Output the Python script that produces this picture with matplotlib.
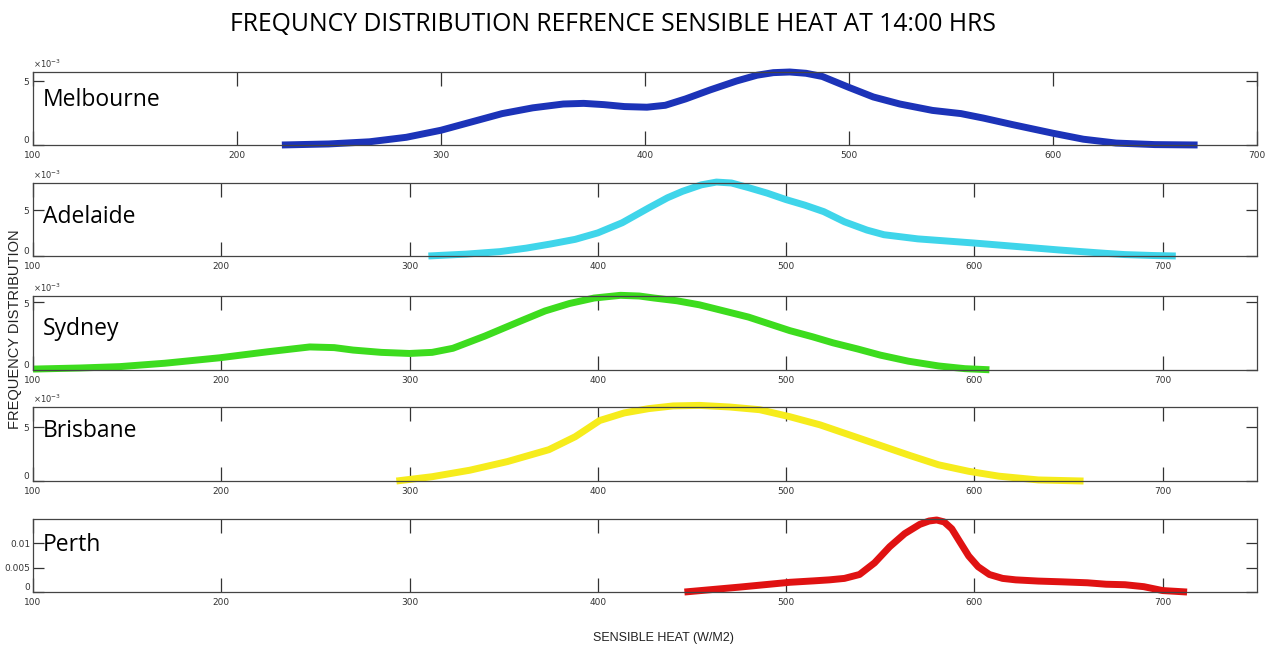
import matplotlib
matplotlib.use('Agg')
import matplotlib.pyplot as plt
from matplotlib.ticker import ScalarFormatter

# Sensible heat (W/m2) and frequency (x1e-3)
cities = ['Melbourne', 'Adelaide', 'Sydney', 'Brisbane', 'Perth']

melb_x = [222, 245, 265, 283, 300, 315, 330, 345, 360, 370, 380, 390, 401, 410, 420, 432, 445, 455,
          463, 471, 479, 487, 500, 512, 525, 541, 555, 566, 580, 600, 615, 631, 650, 671]
melb_y = [0, 0.08, 0.25, 0.6, 1.15, 1.8, 2.45, 2.9, 3.2, 3.25, 3.15, 3.0, 2.95, 3.1, 3.6, 4.3, 5.0, 5.45,
          5.65, 5.7, 5.6, 5.35, 4.5, 3.75, 3.2, 2.7, 2.45, 2.1, 1.6, 0.92, 0.45, 0.15, 0.03, 0]

adel_x = [310, 330, 348, 362, 375, 388, 400, 413, 427, 437, 445, 455, 463, 471, 480, 490, 500, 510,
          520, 531, 543, 552, 560, 570, 580, 590, 600, 615, 630, 645, 657, 670, 680, 695, 707]
adel_y = [0, 0.2, 0.47, 0.85, 1.3, 1.8, 2.5, 3.6, 5.2, 6.3, 7.0, 7.7, 8.0, 7.9, 7.4, 6.8, 6.1, 5.5,
          4.8, 3.7, 2.8, 2.3, 2.1, 1.85, 1.7, 1.55, 1.4, 1.15, 0.9, 0.65, 0.47, 0.28, 0.15, 0.05, 0]

syd_x = [100, 125, 146, 170, 199, 225, 247, 260, 270, 285, 300, 312, 323, 340, 358, 372, 385, 398,
         412, 422, 430, 442, 454, 467, 480, 491, 502, 514, 525, 538, 550, 565, 581, 595, 608]
syd_y = [0.07, 0.15, 0.25, 0.5, 0.9, 1.35, 1.7, 1.65, 1.47, 1.3, 1.22, 1.3, 1.6, 2.5, 3.55, 4.35, 4.9, 5.3,
         5.5, 5.45, 5.3, 5.1, 4.8, 4.35, 3.9, 3.4, 2.9, 2.45, 2.0, 1.55, 1.1, 0.65, 0.3, 0.1, 0.02]

bris_x = [293, 312, 332, 352, 374, 388, 401, 414, 427, 440, 454, 470, 486, 502, 518, 534, 550, 566,
          581, 597, 613, 634, 658]
bris_y = [0, 0.4, 1.0, 1.8, 2.9, 4.1, 5.6, 6.3, 6.7, 6.95, 7.0, 6.85, 6.6, 5.95, 5.2, 4.25, 3.3, 2.35,
          1.5, 0.9, 0.45, 0.1, 0]

perth_x = [446, 475, 502, 515, 523, 531, 539, 547, 555, 563, 571, 576, 580, 584, 588, 592, 597, 602,
           608, 615, 622, 634, 646, 660, 670, 680, 690, 700, 713]
perth_y = [0, 1.0, 2.0, 2.3, 2.5, 2.8, 3.6, 6.0, 9.3, 12.0, 13.9, 14.6, 14.8, 14.4, 13.0, 10.5, 7.4, 5.2,
           3.6, 2.8, 2.5, 2.25, 2.1, 1.9, 1.6, 1.5, 1.1, 0.3, 0]

xs = [melb_x, adel_x, syd_x, bris_x, perth_x]
ys = [melb_y, adel_y, syd_y, bris_y, perth_y]
colors = ['#1c33b8', '#3fd5ea', '#3ddc1e', '#f6ec1c', '#e01212']
xmax = [700, 750, 750, 750, 750]
ytop = [5.7e-3, 7.9e-3, 5.45e-3, 6.85e-3, 0.015]
label_y = [0.62, 0.53, 0.55, 0.68, 0.64]

# axes boxes [left, bottom, width, height] in figure fraction
boxes = [
    [0.0259, 0.7773, 0.959, 0.1121],
    [0.0259, 0.6068, 0.959, 0.1121],
    [0.0259, 0.4316, 0.959, 0.1137],
    [0.0259, 0.2611, 0.959, 0.1137],
    [0.0259, 0.0906, 0.959, 0.1121],
]

fig = plt.figure(figsize=(12.76, 6.51), dpi=100)
fig.patch.set_facecolor('white')

for i in range(5):
    ax = fig.add_axes(boxes[i])
    ax.plot(xs[i], [v * 1e-3 for v in ys[i]], color=colors[i], lw=5,
            solid_capstyle='butt', solid_joinstyle='round', clip_on=False)
    ax.set_xlim(100, xmax[i])
    ax.set_ylim(0, ytop[i])
    ax.set_xticks([100, 200, 300, 400, 500, 600, 700])
    if i == 4:
        ax.set_yticks([0, 0.005, 0.01])
        ax.set_yticklabels(['0', '0.005', '0.01'])
    else:
        ax.set_yticks([0, 5e-3])
        fmt = ScalarFormatter(useMathText=True)
        fmt.set_powerlimits((-2, 2))
        ax.yaxis.set_major_formatter(fmt)
        ax.yaxis.get_offset_text().set_fontsize(6)
        ax.yaxis.get_offset_text().set_color('#333333')
    ax.tick_params(direction='in', top=True, right=True, labelsize=6.5,
                   labelcolor='#333333', color='#333333', width=0.9)
    ax.tick_params(axis='x', length=10, pad=4)
    ax.tick_params(axis='y', length=8, pad=2)
    for s in ax.spines.values():
        s.set_color('#444444')
        s.set_linewidth(0.9)
    ax.text(0.008, label_y[i], cities[i], transform=ax.transAxes,
            fontsize=16.5, family='Open Sans', va='center', ha='left')

# lift the "0" y labels a little so they sit above the "100" x labels
fig.canvas.draw()
for ax in fig.axes:
    ax.get_yticklabels()[0].set_verticalalignment('bottom')

fig.text(0.4806, 0.963, 'FREQUNCY DISTRIBUTION REFRENCE SENSIBLE HEAT AT 14:00 HRS',
         fontsize=17.8, family='Open Sans', ha='center', va='center')
fig.text(0.012, 0.495, 'FREQUENCY DISTRIBUTION', rotation=90, fontsize=10.5,
         family='Liberation Sans', ha='center', va='center', color='#222222')
fig.text(0.52, 0.02, 'SENSIBLE HEAT (W/M2)', fontsize=9,
         family='Liberation Sans', ha='center', va='center', color='#222222')

plt.savefig('out.png', dpi=100)
